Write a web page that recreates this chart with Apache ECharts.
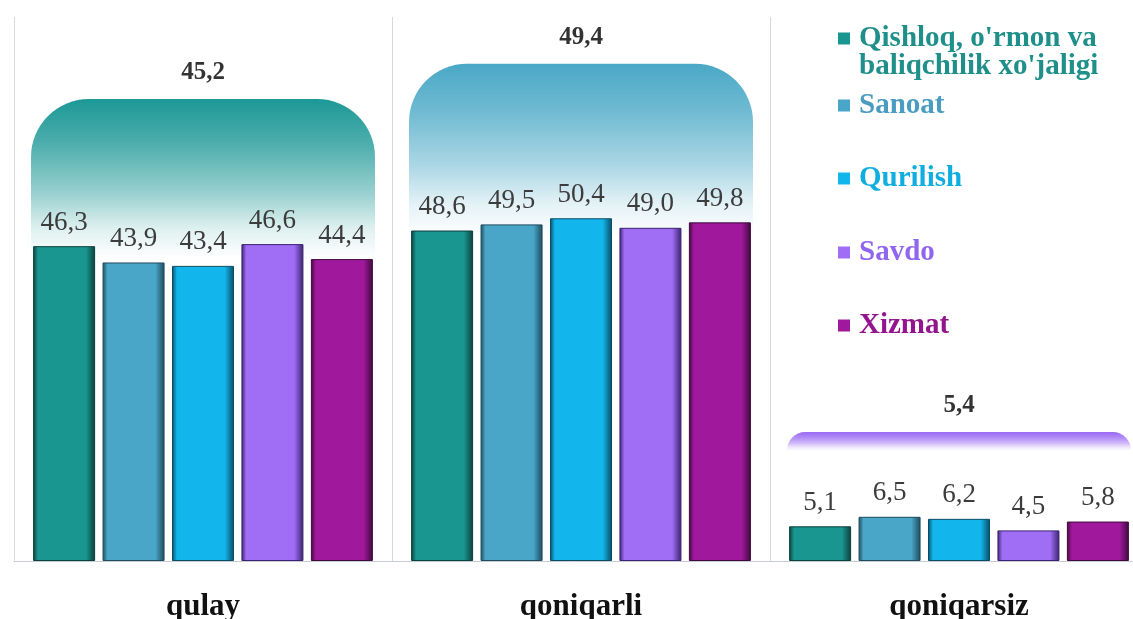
<!DOCTYPE html>
<html><head><meta charset="utf-8">
<script src="https://cdn.jsdelivr.net/npm/echarts@6/dist/echarts.min.js"></script>
<style>html,body{margin:0;padding:0;background:#fff}#c{width:1133px;height:619px}</style>
</head><body><div id="c"></div>
<script>
const categories = ['qulay', 'qoniqarli', 'qoniqarsiz'];
const seriesNames = ["Qishloq, o'rmon va baliqchilik xo'jaligi", 'Sanoat', 'Qurilish', 'Savdo', 'Xizmat'];
const qishloq = [46.3, 48.6, 5.1];
const sanoat = [43.9, 49.5, 6.5];
const qurilish = [43.4, 50.4, 6.2];
const savdo = [46.6, 49.0, 4.5];
const xizmat = [44.4, 49.8, 5.8];
const totals = [45.2, 49.4, 5.4];

const seriesValues = [qishloq, sanoat, qurilish, savdo, xizmat];
const barColors = ['#1a9690', '#4aa6c8', '#12b6ec', '#a06ef4', '#a0189c'];
const darkColors = ['#0b3f3c', '#1d4a5c', '#0a4c66', '#3a2270', '#3e0a3c'];
const legendColors = ['#1f8f8a', '#4a9cc0', '#10aee0', '#9066ee', '#94148e'];
const totalColors = ['#1c9896', '#4aa8c6', '#9a6af4'];
const FONT = '"Liberation Serif", "DejaVu Serif", serif';
const fmt = v => String(v.toFixed(1)).replace('.', ',');
function hexA(hex, a){const n=parseInt(hex.slice(1),16);return `rgba(${n>>16},${(n>>8)&255},${n&255},${a})`;}

const chart = echarts.init(document.getElementById('c'));
const series = [];
series.push({
  type: 'bar', name: 'total', xAxisIndex: 1, yAxisIndex: 1, z: 1,
  barWidth: 344, silent: true,
  data: totals.map((v, i) => ({
    value: v,
    itemStyle: {
      borderRadius: i === 2 ? [18, 18, 0, 0] : [58, 58, 0, 0],
      color: {type: 'linear', x: 0, y: 0, x2: 0, y2: 1, colorStops: [
        {offset: 0, color: hexA(totalColors[i], 1)},
        {offset: 0.12, color: hexA(totalColors[i], 0.78)},
        {offset: 0.25, color: hexA(totalColors[i], 0.45)},
        {offset: 0.34, color: hexA(totalColors[i], 0.15)},
        {offset: 0.42, color: hexA(totalColors[i], 0.0)},
        {offset: 1, color: hexA(totalColors[i], 0.0)}]}
    }
  })),
  label: {show: true, position: 'top', distance: 14, formatter: p => fmt(p.value),
    fontFamily: FONT, fontWeight: 'bold', fontSize: 25, color: '#333'}
});
seriesValues.forEach((arr, si) => {
  series.push({
    type: 'bar', name: seriesNames[si], xAxisIndex: 0, yAxisIndex: 0, z: 3,
    barWidth: 62, barGap: '12%',
    data: arr,
    itemStyle: {
      borderColor: darkColors[si], borderWidth: 1,
      color: {type: 'linear', x: 0, y: 0, x2: 1, y2: 0, colorStops: [
        {offset: 0, color: darkColors[si]},
        {offset: 0.08, color: barColors[si]},
        {offset: 0.85, color: barColors[si]},
        {offset: 1, color: darkColors[si]}]}
    },
    label: {show: true, position: 'top', distance: 10, formatter: p => fmt(p.value),
      fontFamily: FONT, fontSize: 27, color: '#3c3c3c'}
  });
});

const legendCenters = [38, 103, 176, 250, 323];
const tallIcon = 'path://M0,0L12,0L12,12L0,12Z M0,39.99L0.01,39.99L0.01,40L0,40Z';
const legends = seriesNames.map((n, i) => ({
  data: [{name: n, itemStyle: {color: barColors[i], borderWidth: 0, borderColor: 'transparent'}}],
  left: 838, top: i === 0 ? legendCenters[i] - 14 : legendCenters[i] - 12,
  padding: 0, icon: i === 0 ? tallIcon : 'rect', itemWidth: 12, itemHeight: i === 0 ? 40 : 12, itemGap: 6,
  selectedMode: false,
  formatter: i === 0 ? "Qishloq, o'rmon va\nbaliqchilik xo'jaligi" : '{name}',
  textStyle: {fontFamily: FONT, fontWeight: 'bold', fontSize: 29, color: legendColors[i],
    lineHeight: 28, padding: [0, 0, 0, 4]}
}));

chart.setOption({
  animation: false,
  grid: {left: 14, top: 17, right: -15, bottom: 58, outerBoundsMode: 'none', containLabel: false},
  legend: legends,
  xAxis: [
    {type: 'category', data: categories,
     axisLine: {lineStyle: {color: '#c8ccd4'}}, axisTick: {show: false},
     splitLine: {show: true, lineStyle: {color: '#d4d8e0', width: 1}},
     axisLabel: {fontFamily: FONT, fontWeight: 'bold', fontSize: 31, color: '#111', margin: 30}},
    {type: 'category', data: categories, show: false}
  ],
  yAxis: [
    {type: 'value', min: 0, max: 80, show: false},
    {type: 'value', min: -10, max: 55, show: false}
  ],
  series
});
</script></body></html>
